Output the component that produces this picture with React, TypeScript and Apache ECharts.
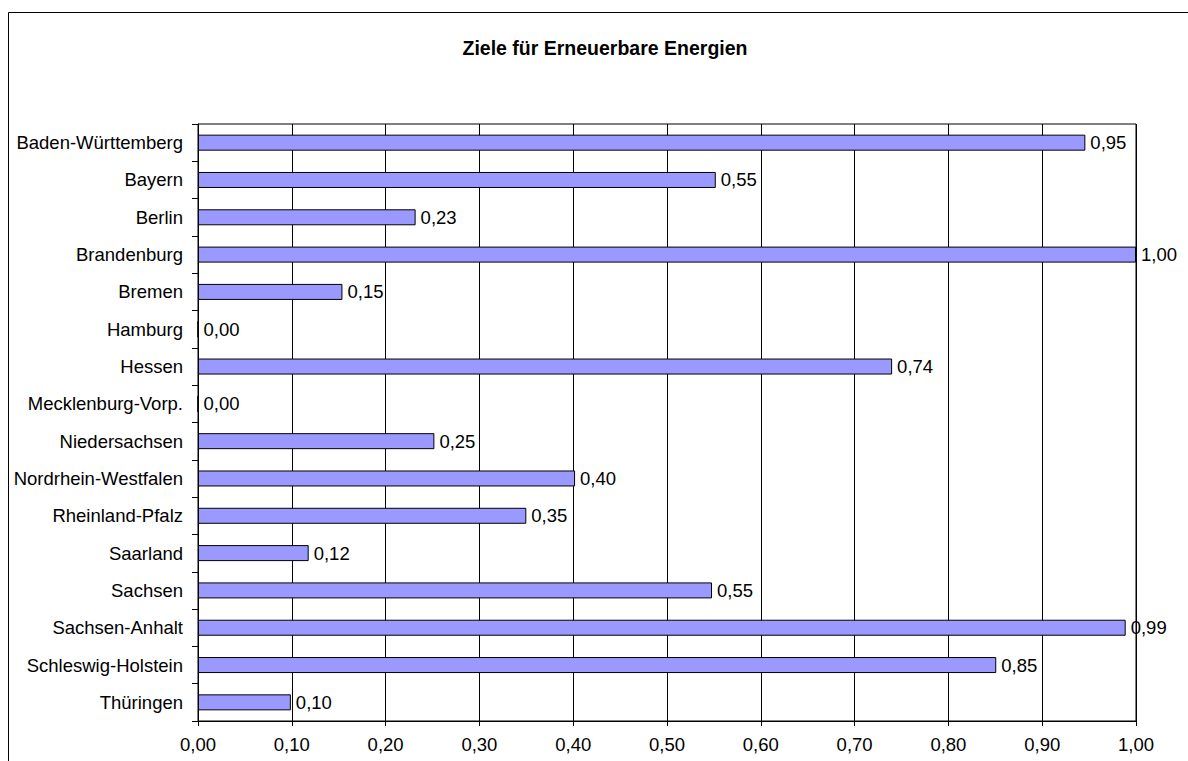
import React, { useEffect, useRef } from "react";
import * as echarts from "echarts";

const TITLE = "Ziele für Erneuerbare Energien";

const categories = [
  "Baden-Württemberg",
  "Bayern",
  "Berlin",
  "Brandenburg",
  "Bremen",
  "Hamburg",
  "Hessen",
  "Mecklenburg-Vorp.",
  "Niedersachsen",
  "Nordrhein-Westfalen",
  "Rheinland-Pfalz",
  "Saarland",
  "Sachsen",
  "Sachsen-Anhalt",
  "Schleswig-Holstein",
  "Thüringen",
];

const values = [
  0.946, 0.552, 0.232, 1.0, 0.154, 0.0, 0.74, 0.0, 0.252, 0.402, 0.35, 0.118,
  0.548, 0.989, 0.851, 0.099,
];

const xMin = 0;
const xMax = 1;
const xInterval = 0.1;

const fmt = (v: number) => v.toFixed(2).replace(".", ",");

export default function App() {
  const ref = useRef<HTMLDivElement>(null);

  useEffect(() => {
    if (!ref.current) return;
    const chart = echarts.init(ref.current, undefined, { renderer: "svg" });
    const font = "'Liberation Sans', Arial, sans-serif";
    chart.setOption({
      animation: false,
      backgroundColor: "#ffffff",
      title: {
        text: TITLE,
        left: 600,
        top: 33,
        textAlign: "center",
        textStyle: {
          fontFamily: font,
          fontSize: 19.5,
          fontWeight: "bold",
          color: "#000",
        },
      },
      graphic: [
        {
          type: "rect",
          shape: { x: 8.5, y: 12.5, width: 1300, height: 900 },
          style: { fill: "none", stroke: "#000", lineWidth: 1 },
          silent: true,
        },
      ],
      grid: {
        left: 198,
        top: 124,
        right: 52,
        bottom: 40,
        show: true,
        borderColor: "#000",
        borderWidth: 1,
        backgroundColor: "transparent",
      },
      xAxis: {
        type: "value",
        min: xMin,
        max: xMax,
        interval: xInterval,
        axisLine: { show: true, lineStyle: { color: "#000", width: 1 } },
        axisTick: { show: true, length: 5, lineStyle: { color: "#000" } },
        axisLabel: {
          formatter: (v: number) => fmt(v),
          fontFamily: font,
          fontSize: 18.5,
          color: "#000",
          margin: 14,
        },
        splitLine: { show: true, lineStyle: { color: "#000", width: 1 } },
      },
      yAxis: {
        type: "category",
        data: categories,
        inverse: true,
        axisLine: { show: true, lineStyle: { color: "#000", width: 1 } },
        axisTick: { show: true, length: 6, lineStyle: { color: "#000" } },
        axisLabel: {
          fontFamily: font,
          fontSize: 18.5,
          color: "#000",
          margin: 15,
        },
        splitLine: { show: false },
      },
      series: [
        {
          type: "bar",
          data: values,
          barWidth: 16,
          itemStyle: {
            color: "#9999FF",
            borderColor: "#000",
            borderWidth: 1,
          },
          label: {
            show: true,
            position: "right",
            distance: 5,
            formatter: (p: any) => fmt(p.value),
            fontFamily: font,
            fontSize: 18.5,
            color: "#000",
          },
        },
      ],
    });
    return () => chart.dispose();
  }, []);

  return (
    <div
      ref={ref}
      style={{
        position: "absolute",
        left: 0,
        top: 0,
        width: 1188,
        height: 761,
        overflow: "hidden",
      }}
    />
  );
}
